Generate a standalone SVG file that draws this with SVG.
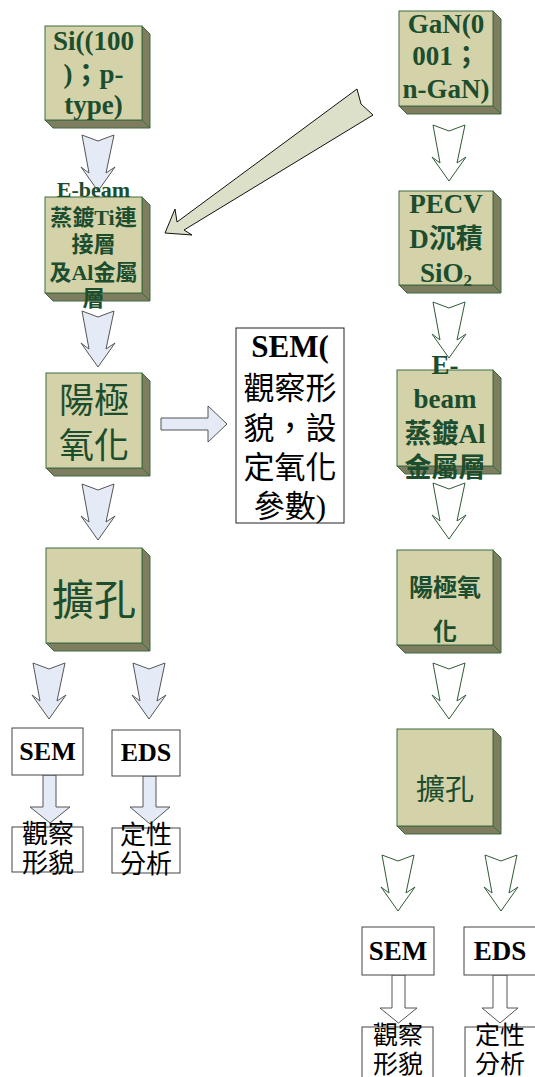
<svg xmlns="http://www.w3.org/2000/svg" xmlns:xlink="http://www.w3.org/1999/xlink" width="535" height="1077" viewBox="0 0 535 1077">
<style>
.face{fill:#d3d2a9;stroke:#3e6b40;stroke-width:1}
.side{fill:#7e7d5f;stroke:#3e6b40;stroke-width:1}
.t{font-family:"Liberation Serif","Noto Sans CJK TC",serif;fill:#1b4d2e;text-anchor:middle}
.b{font-weight:bold}
.k{font-family:"Liberation Serif","Noto Sans CJK TC",serif;fill:#000;text-anchor:middle}
.wbox{fill:#fff;stroke:#444;stroke-width:1}
.la{fill:#e4eaf6;stroke:#555;stroke-width:1}
.ra{fill:#fff;stroke:#2f5a35;stroke-width:1}
.blk{fill:#fff;stroke:#555;stroke-width:1}
</style>
<defs>
<path id="dn" d="M0,0 L16,6 L32,0 L24,38 L33,32 L16,56 L-1,32 L7,38 Z"/>
</defs>
<rect width="535" height="1077" fill="#fff"/>
<g id="connectors">
<use xlink:href="#dn" class="la" transform="translate(82,135)"/>
<use xlink:href="#dn" class="la" transform="translate(82,311)"/>
<use xlink:href="#dn" class="la" transform="translate(82,484)"/>
<use xlink:href="#dn" class="la" transform="translate(33,663)"/>
<use xlink:href="#dn" class="la" transform="translate(133,663)"/>
<use xlink:href="#dn" class="ra" transform="translate(433,125)"/>
<use xlink:href="#dn" class="ra" transform="translate(433,302)"/>
<use xlink:href="#dn" class="ra" transform="translate(433,483)"/>
<use xlink:href="#dn" class="ra" transform="translate(433,663)"/>
<use xlink:href="#dn" class="ra" transform="translate(382,855)"/>
<use xlink:href="#dn" class="ra" transform="translate(485,855)"/>
<polygon points="357,89 361,104 373,115 184,230 192,235 165,233 175,209 177,222" fill="#dde0c9" stroke="#111" stroke-width="1"/>
<polygon points="161,418 208,418 208,406 227,424 208,442 208,430 161,430" class="la"/>
<polygon points="43,775 56,775 56,807 70,807 50,823 30,807 43,807" class="la"/>
<polygon points="143,776 156,776 156,807 170,807 150,824 130,807 143,807" class="la"/>
<polygon points="392,975 405,975 405,1008 417,1008 398.5,1023 380,1008 392,1008" class="blk"/>
<polygon points="493,975 507,975 507,1008 518,1008 500,1023 482,1008 493,1008" class="blk"/>
</g>
<g id="n-si">
<polygon class="side" points="142,26 150,34 150,128 142,120"/>
<polygon class="side" points="45,120 142,120 150,128 53,128"/>
<rect class="face" x="45" y="26" width="97" height="94"/>
<text class="t b" font-size="27" x="93.5" y="50">Si((100</text>
<text class="t b" font-size="27" x="93.5" y="83">)；p-</text>
<text class="t b" font-size="27" x="93.5" y="114">type)</text>
</g>
<g id="n-ebeam-ti">
<polygon class="side" points="142,197 150,205 150,301 142,293"/>
<polygon class="side" points="45,293 142,293 150,301 53,301"/>
<rect class="face" x="45" y="197" width="97" height="96"/>
<text class="t b" font-size="22" x="93.5" y="197">E-beam</text>
<text class="t b" font-size="22" x="93.5" y="225">蒸鍍Ti連</text>
<text class="t b" font-size="22" x="93.5" y="252">接層</text>
<text class="t b" font-size="22" x="93.5" y="280">及Al金屬</text>
<text class="t b" font-size="22" x="93.5" y="306">層</text>
</g>
<g id="n-anod-l">
<polygon class="side" points="142,373 150,381 150,476 142,468"/>
<polygon class="side" points="46,468 142,468 150,476 54,476"/>
<rect class="face" x="46" y="373" width="96" height="95"/>
<text class="t" font-size="35" x="94" y="413">陽極</text>
<text class="t" font-size="35" x="94" y="458">氧化</text>
</g>
<g id="n-pore-l">
<polygon class="side" points="142,548 150,556 150,651 142,643"/>
<polygon class="side" points="46,643 142,643 150,651 54,651"/>
<rect class="face" x="46" y="548" width="96" height="95"/>
<text class="t" font-size="42" x="94" y="615">擴孔</text>
</g>
<g id="n-sem-param">
<rect x="236" y="328" width="108" height="195" fill="#fff" stroke="#222" stroke-width="1"/>
<text class="k b" font-size="31" x="290" y="357">SEM(</text>
<text class="k" font-size="31" x="290" y="399">觀察形</text>
<text class="k" font-size="31" x="290" y="439">貌，設</text>
<text class="k" font-size="31" x="290" y="478">定氧化</text>
<text class="k" font-size="31" x="290" y="517">參數)</text>
</g>
<g id="n-sem-l">
<rect class="wbox" x="12" y="728" width="71" height="47"/>
<text class="k b" font-size="26" x="47.5" y="760">SEM</text>
</g>
<g id="n-eds-l">
<rect class="wbox" x="112" y="730" width="68" height="46"/>
<text class="k b" font-size="26" x="146" y="761">EDS</text>
</g>
<g id="n-obs-l">
<rect x="12" y="827" width="71" height="45" fill="none" stroke="#444"/>
<text class="k" font-size="26" x="48" y="843">觀察</text>
<text class="k" font-size="26" x="48" y="872">形貌</text>
</g>
<g id="n-qual-l">
<rect x="112" y="828" width="68" height="45" fill="none" stroke="#444"/>
<text class="k" font-size="26" x="146" y="844">定性</text>
<text class="k" font-size="26" x="146" y="873">分析</text>
</g>
<g id="n-gan">
<polygon class="side" points="493,11 501,19 501,114 493,106"/>
<polygon class="side" points="399,106 493,106 501,114 407,114"/>
<rect class="face" x="399" y="11" width="94" height="95"/>
<text class="t b" font-size="27" x="446" y="33">GaN(0</text>
<text class="t b" font-size="27" x="446" y="65">001；</text>
<text class="t b" font-size="27" x="446" y="98">n-GaN)</text>
</g>
<g id="n-pecvd">
<polygon class="side" points="493,191 501,199 501,293 493,285"/>
<polygon class="side" points="399,285 493,285 501,293 407,293"/>
<rect class="face" x="399" y="191" width="94" height="94"/>
<text class="t b" font-size="27" x="446" y="213">PECV</text>
<text class="t b" font-size="27" x="446" y="248">D沉積</text>
<text class="t b" font-size="27" x="446" y="282">SiO<tspan font-size="17" dy="4">2</tspan></text>
</g>
<g id="n-ebeam-al">
<polygon class="side" points="493,370 501,378 501,474 493,466"/>
<polygon class="side" points="397,466 493,466 501,474 405,474"/>
<rect class="face" x="397" y="370" width="96" height="96"/>
<text class="t b" font-size="27" x="445" y="374">E-</text>
<text class="t b" font-size="27" x="445" y="408">beam</text>
<text class="t b" font-size="27" x="445" y="443">蒸鍍Al</text>
<text class="t b" font-size="27" x="445" y="477">金屬層</text>
</g>
<g id="n-anod-r">
<polygon class="side" points="493,550 501,558 501,653 493,645"/>
<polygon class="side" points="397,645 493,645 501,653 405,653"/>
<rect class="face" x="397" y="550" width="96" height="95"/>
<text class="t b" font-size="24" x="445" y="596">陽極氧</text>
<text class="t b" font-size="24" x="445" y="640">化</text>
</g>
<g id="n-pore-r">
<polygon class="side" points="493,729 501,737 501,834 493,826"/>
<polygon class="side" points="397,826 493,826 501,834 405,834"/>
<rect class="face" x="397" y="729" width="96" height="97"/>
<text class="t" font-size="29" x="445" y="800">擴孔</text>
</g>
<g id="n-sem-r">
<rect class="wbox" x="362" y="927" width="72" height="48"/>
<text class="k b" font-size="27" x="398" y="960">SEM</text>
</g>
<g id="n-eds-r">
<rect class="wbox" x="464" y="927" width="80" height="48"/>
<text class="k b" font-size="27" x="500" y="960">EDS</text>
</g>
<g id="n-obs-r">
<rect x="362" y="1027" width="71" height="60" fill="none" stroke="#444"/>
<text class="k" font-size="25" x="398" y="1044">觀察</text>
<text class="k" font-size="25" x="398" y="1073">形貌</text>
</g>
<g id="n-qual-r">
<rect x="465" y="1027" width="80" height="60" fill="none" stroke="#444"/>
<text class="k" font-size="25" x="500" y="1044">定性</text>
<text class="k" font-size="25" x="500" y="1073">分析</text>
</g>
</svg>
